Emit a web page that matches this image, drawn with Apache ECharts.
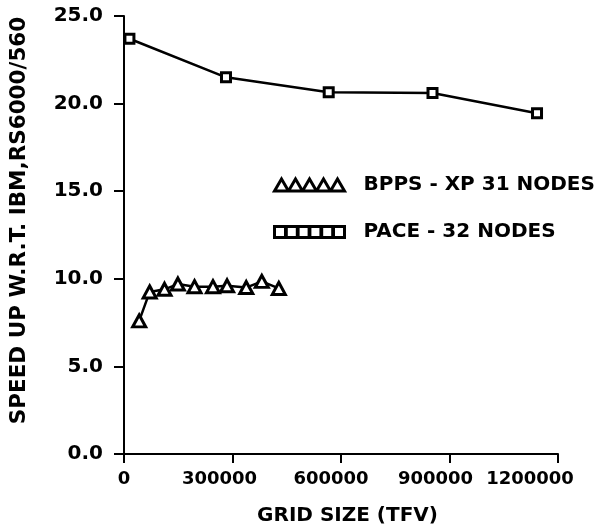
<!DOCTYPE html>
<html>
<head>
<meta charset="utf-8">
<script src="https://cdn.jsdelivr.net/npm/echarts@6/dist/echarts.min.js"></script>
<style>
html,body{margin:0;padding:0;background:#fff;}
#chart{width:613px;height:531px;}
</style>
</head>
<body>
<div id="chart"></div>
<script>
// ---- data ----
var seriesNames = ['BPPS - XP 31 NODES', 'PACE - 32 NODES'];
var bppsX = [42000, 71000, 112000, 149000, 195000, 246000, 285000, 338000, 381000, 428000];
var bppsY = [7.6, 9.25, 9.4, 9.7, 9.55, 9.55, 9.6, 9.5, 9.85, 9.45];
var paceX = [15000, 282000, 566000, 853000, 1142000];
var paceY = [23.7, 21.5, 20.65, 20.6, 19.45];
var xTicks = [0, 300000, 600000, 900000, 1200000];
var yTicks = [0, 5, 10, 15, 20, 25];
var xTitle = 'GRID SIZE (TFV)';
var yTitle = 'SPEED UP W.R.T. IBM,RS6000/560';

function pairs(xs, ys) { return xs.map(function (x, i) { return [x, ys[i]]; }); }

var FONT = 'DejaVu Sans';
// per-label horizontal nudges (style only)
var xLabelShift = {0: 0, 300000: 13, 600000: 10, 900000: 14, 1200000: 28};
var rich = {};
xTicks.forEach(function (v) {
  rich['s' + v] = {fontFamily: FONT, fontWeight: 'bold', fontSize: 18, color: '#000',
                   padding: [0, 2 * xLabelShift[v], 0, 0]};
});

var triPath = 'path://' + [0, 1, 2, 3, 4].map(function (i) {
  var x = i * 14; return 'M' + x + ',12L' + (x + 7) + ',0L' + (x + 14) + ',12Z';
}).join('');
var sqPath = 'path://' + [0, 1, 2, 3, 4, 5].map(function (i) {
  var x = i * 11.8; return 'M' + x + ',0L' + (x + 11) + ',0L' + (x + 11) + ',11L' + x + ',11Z';
}).join('');

var chart = echarts.init(document.getElementById('chart'), null, {renderer: 'canvas'});
chart.setOption({
  backgroundColor: '#fff',
  animation: false,
  grid: {left: 122.5, right: 55, top: 16, bottom: 73, containLabel: false},
  legend: {
    orient: 'vertical', left: 268, top: 170, itemWidth: 70, itemHeight: 12, itemGap: 27,
    symbolKeepAspect: true,
    formatter: function (n) { return '{t|' + n + '}'; },
    textStyle: {rich: {t: {fontFamily: FONT, fontWeight: 'bold', fontSize: 20, color: '#000',
                            lineHeight: 21, padding: [0, 0, 0, 14]}}},
    data: [
      {name: seriesNames[0], icon: triPath,
       itemStyle: {color: '#fff', borderColor: '#000', borderWidth: 3}},
      {name: seriesNames[1], icon: sqPath,
       itemStyle: {color: '#fff', borderColor: '#000', borderWidth: 3}}
    ]
  },
  xAxis: {
    type: 'value', min: 0, max: 1200000, interval: 300000,
    name: xTitle, nameLocation: 'middle', nameGap: 52,
    nameTextStyle: {fontFamily: FONT, fontWeight: 'bold', fontSize: 20, color: '#000', padding: [0, 0, 0, 13]},
    axisLine: {show: true, lineStyle: {color: '#000', width: 2}},
    axisTick: {show: true, inside: false, length: 9, lineStyle: {color: '#000', width: 2}},
    splitLine: {show: false},
    axisLabel: {margin: 16, formatter: function (v) { return '{s' + v + '|' + v + '}'; }, rich: rich}
  },
  yAxis: {
    type: 'value', min: 0, max: 25, interval: 5,
    name: yTitle, nameLocation: 'middle', nameRotate: 90, nameGap: 94,
    nameTextStyle: {fontFamily: FONT, fontWeight: 'bold', fontSize: 21.5, color: '#000', padding: [0, 0, 0, 29]},
    axisLine: {show: true, lineStyle: {color: '#000', width: 2}},
    axisTick: {show: true, inside: false, length: 10, lineStyle: {color: '#000', width: 2}},
    splitLine: {show: false},
    axisLabel: {margin: 21, fontFamily: FONT, fontWeight: 'bold', fontSize: 20, color: '#000',
                formatter: function (v) { return v.toFixed(1); }}
  },
  series: [
    {
      name: seriesNames[0], type: 'line', data: pairs(bppsX, bppsY),
      symbol: 'triangle', symbolSize: [13, 12], showAllSymbol: true,
      lineStyle: {color: '#000', width: 2.5},
      itemStyle: {color: '#fff', borderColor: '#000', borderWidth: 3},
      z: 3
    },
    {
      name: seriesNames[1], type: 'line', data: pairs(paceX, paceY),
      symbol: 'rect', symbolSize: 9, showAllSymbol: true,
      lineStyle: {color: '#000', width: 2.5},
      itemStyle: {color: '#fff', borderColor: '#000', borderWidth: 3},
      z: 3
    }
  ]
});
</script>
</body>
</html>
